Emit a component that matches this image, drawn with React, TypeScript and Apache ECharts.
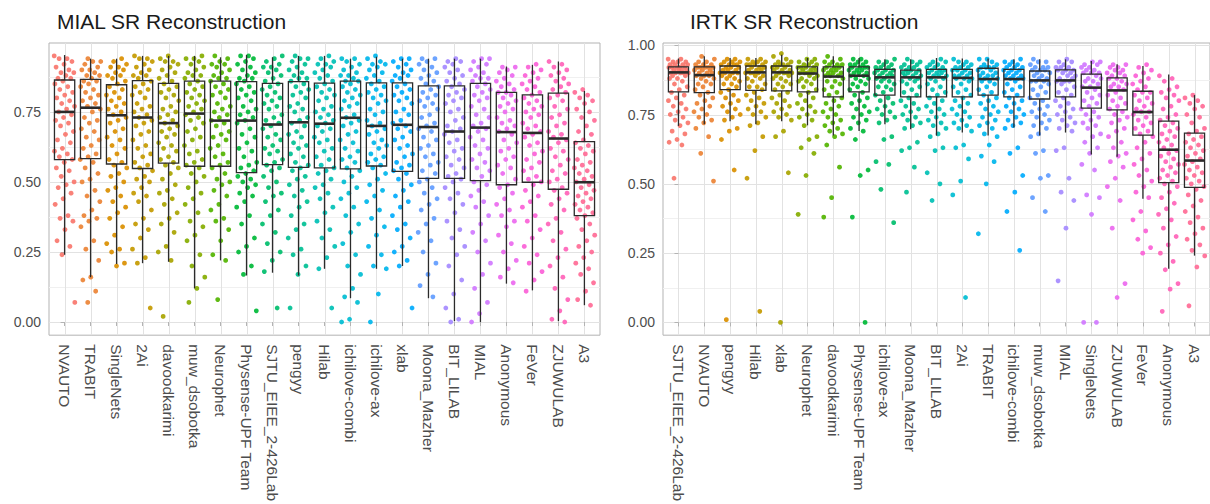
import React, { useEffect, useRef } from "react";
import * as echarts from "echarts";

const FONT = '"Liberation Sans", Arial, Helvetica, sans-serif';

// ---------------- DATA ----------------
const mialTitle = "MIAL SR Reconstruction";
const irtkTitle = "IRTK SR Reconstruction";

const mialCats = [
  "NVAUTO", "TRABIT", "SingleNets", "2Ai", "davoodkarimi", "muw_dsobotka", "Neurophet",
  "Physense-UPF Team", "SJTU_EIEE_2-426Lab", "pengyy", "Hilab", "ichilove-combi", "ichilove-ax",
  "xlab", "Moona_Mazher", "BIT_LILAB", "MIAL", "Anonymous", "FeVer", "ZJUWULAB", "A3",
];

const irtkCats = [
  "SJTU_EIEE_2-426Lab", "NVAUTO", "pengyy", "Hilab", "xlab", "Neurophet", "davoodkarimi",
  "Physense-UPF Team", "ichilove-ax", "Moona_Mazher", "BIT_LILAB", "2Ai", "TRABIT",
  "ichilove-combi", "muw_dsobotka", "MIAL", "SingleNets", "ZJUWULAB", "FeVer", "Anonymous", "A3",
];

const yTicksMial = [0, 0.25, 0.5, 0.75];
const yTicksIrtk = [0, 0.25, 0.5, 0.75, 1.0];

// box stats: [lower whisker, Q1, median, Q3, upper whisker]
const mialStats = [
  [0.24, 0.58, 0.75, 0.864, 0.953],
  [0.16, 0.583, 0.765, 0.866, 0.94],
  [0.207, 0.564, 0.738, 0.847, 0.94],
  [0.21, 0.548, 0.73, 0.862, 0.95],
  [0.215, 0.567, 0.71, 0.852, 0.95],
  [0.12, 0.556, 0.744, 0.86, 0.95],
  [0.22, 0.556, 0.719, 0.86, 0.945],
  [0.166, 0.533, 0.719, 0.858, 0.953],
  [0.176, 0.562, 0.705, 0.852, 0.945],
  [0.166, 0.552, 0.713, 0.858, 0.95],
  [0.19, 0.55, 0.708, 0.853, 0.95],
  [0.085, 0.547, 0.729, 0.86, 0.94],
  [0.19, 0.557, 0.7, 0.854, 0.947],
  [0.2, 0.538, 0.704, 0.854, 0.94],
  [0.085, 0.513, 0.696, 0.843, 0.94],
  [0.003, 0.513, 0.68, 0.843, 0.94],
  [0.0, 0.505, 0.694, 0.852, 0.94],
  [0.137, 0.49, 0.678, 0.82, 0.912],
  [0.113, 0.499, 0.675, 0.811, 0.918],
  [0.003, 0.474, 0.655, 0.817, 0.93],
  [0.06, 0.38, 0.499, 0.644, 0.825],
];

const irtkStats = [
  [0.709, 0.832, 0.902, 0.922, 0.952],
  [0.715, 0.829, 0.892, 0.922, 0.96],
  [0.726, 0.84, 0.902, 0.925, 0.954],
  [0.715, 0.837, 0.902, 0.925, 0.954],
  [0.726, 0.835, 0.902, 0.925, 0.966],
  [0.711, 0.832, 0.898, 0.922, 0.954],
  [0.674, 0.814, 0.887, 0.922, 0.96],
  [0.691, 0.832, 0.89, 0.922, 0.954],
  [0.715, 0.82, 0.884, 0.913, 0.949],
  [0.697, 0.814, 0.884, 0.91, 0.949],
  [0.674, 0.814, 0.884, 0.913, 0.954],
  [0.685, 0.814, 0.882, 0.913, 0.952],
  [0.674, 0.82, 0.878, 0.917, 0.952],
  [0.703, 0.814, 0.878, 0.913, 0.949],
  [0.674, 0.806, 0.873, 0.907, 0.949],
  [0.685, 0.814, 0.873, 0.911, 0.949],
  [0.606, 0.773, 0.847, 0.896, 0.943],
  [0.598, 0.767, 0.837, 0.882, 0.931],
  [0.446, 0.676, 0.759, 0.834, 0.925],
  [0.194, 0.504, 0.623, 0.726, 0.894],
  [0.241, 0.487, 0.584, 0.683, 0.82],
];

// individual scores (hundredths)
const mialPoints = [
  [95,94,94,93,92,91,90,89,89,88,87,87,86,85,84,83,82,81,80,79,78,77,76,75,74,73,72,71,70,68,67,65,64,62,61,60,59,58,57,55,54,52,50,49,48,46,44,42,38,37,36,33,29,27,24,7],
  [94,93,93,92,91,90,90,89,88,88,87,86,86,85,84,83,82,81,80,79,78,77,76,75,73,72,71,69,68,66,65,63,62,60,59,58,57,55,53,51,50,47,45,43,40,38,37,36,34,29,26,22,16,15,11,7],
  [94,93,92,91,91,90,89,88,88,87,86,85,84,83,82,81,80,79,78,77,76,75,74,73,72,71,69,68,66,65,63,62,60,58,57,56,55,53,52,50,48,47,45,43,41,39,37,34,31,28,26,25,21,20],
  [95,94,94,93,92,91,90,89,88,88,87,86,85,84,83,82,81,80,78,77,76,75,74,73,72,71,70,68,67,65,63,62,60,59,57,56,55,54,52,51,50,48,46,45,43,40,37,35,33,30,26,23,21,5],
  [95,94,93,93,92,91,90,89,88,87,86,85,84,83,82,81,80,79,77,76,75,74,73,72,71,70,69,68,67,66,64,63,62,61,59,58,57,56,55,53,51,49,47,46,44,42,39,37,35,32,27,25,22,2],
  [95,94,94,93,92,91,90,89,88,88,87,86,85,84,83,82,81,80,79,78,77,76,75,74,73,72,71,69,68,66,65,63,61,60,58,57,56,55,53,52,50,48,46,44,42,39,36,34,31,29,24,20,16,12,7],
  [95,94,93,92,92,91,90,89,88,87,87,86,85,84,83,82,81,80,78,77,76,75,74,73,72,71,70,68,67,66,65,63,62,60,59,57,56,55,53,51,50,49,47,45,42,40,37,36,33,29,24,22,8],
  [95,95,94,93,92,91,90,89,88,87,87,86,85,84,83,82,81,80,79,77,76,75,74,73,72,71,69,67,66,64,62,61,59,57,56,55,54,53,52,51,50,49,48,46,45,43,41,38,35,30,27,25,20,17,4],
  [95,94,93,92,91,91,90,89,88,87,86,85,84,83,82,81,80,79,78,77,76,74,73,72,71,70,69,67,66,65,63,62,61,60,58,57,56,55,54,52,50,48,46,45,43,40,38,35,32,28,25,22,18,5],
  [95,94,94,93,92,91,90,89,88,87,87,86,85,84,83,82,81,80,78,77,76,75,73,72,71,70,68,67,66,64,63,62,60,59,57,56,55,54,52,51,49,47,45,43,41,38,35,33,30,26,24,20,17,5],
  [95,94,93,92,92,91,90,89,88,87,86,85,84,83,82,81,80,79,77,76,75,74,73,72,71,70,69,68,66,65,64,62,61,59,58,56,55,54,53,51,49,48,46,44,41,39,36,33,30,27,23,19,5],
  [94,94,93,92,91,90,89,88,88,87,86,86,85,84,83,82,81,80,79,78,77,76,74,73,72,71,70,68,67,65,64,62,61,59,58,57,55,54,52,50,48,46,44,41,38,35,32,28,24,20,17,12,9,7,1,0],
  [95,94,93,92,92,91,90,89,88,87,86,85,84,83,82,81,80,79,78,76,75,74,72,71,70,69,68,67,65,64,63,62,60,59,58,57,56,55,53,51,49,47,45,43,40,37,34,31,27,24,20,19,10,0],
  [94,94,93,92,91,90,89,88,88,87,86,85,84,83,82,81,80,79,78,76,75,74,72,71,70,69,68,66,65,63,62,60,59,57,56,55,54,53,51,49,47,45,43,41,38,35,33,30,27,25,22,20,5],
  [94,94,93,92,91,90,89,88,87,86,85,84,83,82,81,80,79,78,77,76,74,73,71,70,69,68,66,65,63,62,60,59,57,56,54,53,51,50,48,46,44,42,40,37,35,32,29,25,21,17,13,9],
  [94,93,93,92,91,90,89,88,87,86,85,84,83,82,81,80,79,78,76,75,73,72,70,69,68,67,65,64,62,61,59,58,56,55,53,52,51,50,48,46,44,42,39,36,33,30,27,24,20,15,10,5,1,0],
  [94,94,93,92,91,90,89,88,87,87,86,85,84,83,82,81,80,79,77,76,74,73,71,70,69,68,66,65,63,62,60,58,57,55,54,52,50,49,47,45,43,41,38,35,32,29,25,21,17,12,7,3,0],
  [91,91,90,89,88,87,86,85,84,83,82,82,81,80,79,78,77,76,75,73,72,71,70,69,68,67,65,64,62,61,59,58,56,55,53,51,49,48,46,44,42,40,38,36,34,31,28,25,22,19,16,14],
  [92,91,90,89,88,87,86,85,84,83,82,81,80,79,78,77,76,75,74,73,71,70,69,68,67,66,64,63,61,60,58,57,55,54,52,51,50,49,47,45,43,41,38,36,33,30,27,24,21,18,15,11],
  [93,92,91,90,89,88,87,86,85,84,83,82,81,80,79,77,76,74,73,71,70,68,67,66,65,64,62,61,59,58,56,54,53,51,50,48,47,46,44,42,40,37,35,32,29,26,23,20,16,12,8,4,1,0],
  [83,82,81,80,79,78,76,75,73,72,70,68,67,65,64,63,62,61,60,58,57,56,55,54,53,52,51,50,49,48,47,46,45,44,43,42,41,40,39,38,37,35,33,31,29,27,25,23,21,19,17,14,11,8,6],
];

const irtkPoints = [
  [95,95,94,94,94,93,93,93,93,92,92,92,92,92,91,91,91,91,90,90,90,90,90,89,89,88,88,87,86,85,84,83,82,81,80,79,78,77,76,75,74,73,72,71,69,68,66,65,64,52],
  [96,95,94,94,93,93,93,92,92,92,92,92,91,91,91,90,90,90,89,89,89,88,88,87,86,86,85,84,83,82,81,80,79,78,77,76,75,74,73,72,70,67,61,51],
  [95,95,94,94,94,93,93,93,93,92,92,92,91,91,91,90,90,90,90,89,89,88,88,87,86,86,85,84,83,82,81,80,79,78,77,76,75,74,73,70,69,66,55,1],
  [95,95,94,94,94,93,93,93,93,92,92,92,91,91,91,90,90,90,90,89,89,88,88,87,86,85,85,84,83,82,81,80,79,78,77,76,75,74,72,71,67,62,52,4],
  [97,96,95,94,94,93,93,93,93,92,92,92,91,91,91,90,90,90,90,89,89,88,88,87,86,86,85,84,83,82,81,80,79,78,77,76,75,74,73,69,67,54,0],
  [95,95,94,94,93,93,93,92,92,92,92,91,91,91,90,90,90,90,89,89,88,88,87,87,86,85,84,83,82,81,80,79,78,77,76,75,74,73,71,67,66,63,61,53,39],
  [96,95,94,94,93,93,93,92,92,92,91,91,91,90,90,90,89,89,89,88,87,87,86,85,84,83,82,81,80,79,78,77,76,75,74,73,72,71,70,69,68,67,64,56,45,38],
  [95,95,94,94,93,93,93,92,92,92,92,91,91,91,90,90,90,89,89,88,88,87,86,86,85,84,83,82,81,80,79,78,77,76,75,74,73,72,70,69,66,55,53,38,0],
  [95,94,94,93,93,92,92,92,91,91,91,90,90,90,89,89,89,88,88,87,87,86,85,85,84,83,82,81,80,79,78,77,76,75,74,73,72,67,66,58,57,48,36],
  [95,94,94,93,93,92,92,92,91,91,91,90,90,90,89,89,89,88,88,87,87,86,85,84,83,82,81,80,79,78,77,76,75,74,73,72,71,70,65,63,62,56,47],
  [95,94,94,93,93,92,92,92,91,91,91,90,90,90,89,89,89,88,88,87,86,85,84,83,82,81,80,79,78,77,76,75,74,73,72,71,70,68,67,63,62,54,50,44],
  [95,94,94,93,93,92,92,92,91,91,91,90,90,89,89,89,88,88,88,87,86,85,84,83,82,81,80,79,78,77,76,75,74,73,72,71,70,69,64,63,59,51,46,9],
  [95,95,94,93,93,92,92,92,92,91,91,90,90,89,89,89,88,88,87,87,86,85,84,83,82,81,80,79,78,77,76,75,74,73,72,71,70,68,67,64,60,58,50,32],
  [95,94,94,93,93,92,92,92,91,91,91,90,90,89,89,89,88,88,88,87,86,85,84,83,82,81,80,79,78,77,76,75,74,73,72,71,70,63,61,53,47,40,26],
  [95,94,94,93,92,92,92,91,91,91,90,90,89,89,88,88,87,87,87,86,85,84,83,82,81,80,79,78,77,76,75,74,73,72,71,70,68,67,62,61,53,52,45,40],
  [95,94,94,93,92,92,92,91,91,91,90,90,89,89,88,88,87,87,87,86,85,84,83,82,81,80,79,78,77,76,75,74,73,72,71,70,69,63,62,52,47,44,34,15],
  [94,94,93,93,92,92,91,91,90,90,90,89,88,88,87,87,86,85,85,84,83,82,81,80,79,78,77,76,75,74,73,72,71,70,68,67,65,63,61,57,55,46,45,39,0,0],
  [93,93,92,92,91,91,90,90,89,89,88,88,87,86,86,85,85,84,83,82,81,80,79,78,77,76,75,74,73,72,70,69,67,65,63,61,60,58,56,52,49,44,34,14,9],
  [93,92,91,90,89,88,87,86,85,84,83,83,82,81,80,79,78,77,76,76,75,74,73,72,71,70,69,68,67,65,63,61,59,57,55,53,51,49,47,45,40,37,33,30,27,25],
  [89,88,87,85,84,83,82,81,80,78,77,75,74,73,72,71,70,69,68,67,66,65,64,63,62,61,60,59,58,57,56,55,54,53,52,51,50,49,47,45,43,41,39,37,34,31,28,25,22,19,14,12,4],
  [82,81,80,79,78,77,75,74,72,70,69,68,67,66,65,64,63,62,61,60,59,58,57,56,55,54,53,52,51,50,49,48,46,44,42,40,38,36,34,32,30,28,26,24,20,6],
];

// ---------------- COLOURS (ggplot2 hue palette) ----------------
function hclHex(h: number, c: number, l: number): string {
  const hr = (h * Math.PI) / 180;
  const U = c * Math.cos(hr);
  const V = c * Math.sin(hr);
  const Xn = 95.047, Yn = 100, Zn = 108.883;
  const Y = Yn * Math.pow((l + 16) / 116, 3);
  const den = Xn + 15 * Yn + 3 * Zn;
  const un = (4 * Xn) / den, vn = (9 * Yn) / den;
  const up = U / (13 * l) + un;
  const vp = V / (13 * l) + vn;
  const X = (Y * 9 * up) / (4 * vp);
  const Z = (Y * (12 - 3 * up - 20 * vp)) / (4 * vp);
  const x = X / 100, y = Y / 100, z = Z / 100;
  const lin = [
    3.240479 * x - 1.53715 * y - 0.498535 * z,
    -0.969256 * x + 1.875992 * y + 0.041556 * z,
    0.055648 * x - 0.204043 * y + 1.057311 * z,
  ];
  const hex = lin
    .map((v) => {
      let g = v <= 0.0031308 ? 12.92 * v : 1.055 * Math.pow(v, 1 / 2.4) - 0.055;
      g = Math.max(0, Math.min(1, g));
      return Math.round(g * 255).toString(16).padStart(2, "0");
    })
    .join("");
  return "#" + hex;
}
const N = 21;
const palette = Array.from({ length: N }, (_, i) => hclHex(15 + (i * 360) / N, 100, 65));

// ---------------- PANEL BUILDER ----------------
function jitter(j: number, cat: number) {
  const f = (j * 0.6180339887 + cat * 0.371) % 1;
  return (f - 0.5) * 0.8;
}

function panel(
  idx: number,
  cats: string[],
  stats: number[][],
  points: number[][],
  yTicks: number[],
  yMin: number,
  yMax: number
) {
  const xAxis = {
    type: "value",
    gridIndex: idx,
    min: -0.6,
    max: cats.length - 1 + 0.6,
    axisLine: { show: false },
    splitLine: { show: false },
    axisTick: {
      show: true,
      length: 4,
      customValues: cats.map((_, i) => i),
      lineStyle: { color: "#b3b3b3", width: 1 },
    },
    axisLabel: {
      show: true,
      customValues: cats.map((_, i) => i),
      formatter: (v: number) => cats[Math.round(v)] ?? "",
      rotate: -90,
      margin: 9,
      fontSize: 15.5,
      color: "#4d4d4d",
      fontFamily: FONT,
    },
  };
  const yAxis = {
    type: "value",
    gridIndex: idx,
    min: yMin,
    max: yMax,
    axisLine: { show: false },
    splitLine: { show: false },
    axisTick: {
      show: true,
      length: 4,
      customValues: yTicks,
      lineStyle: { color: "#b3b3b3", width: 1 },
    },
    axisLabel: {
      show: true,
      customValues: yTicks,
      formatter: (v: number) => v.toFixed(2),
      margin: 8,
      fontSize: 14,
      color: "#4d4d4d",
      fontFamily: FONT,
    },
  };

  const minor: number[] = [];
  for (let k = 0; k < yTicks.length; k++) {
    const m = yTicks[k] + 0.125;
    if (m < yMax) minor.push(m);
  }

  const gridSeries = {
    type: "custom",
    xAxisIndex: idx,
    yAxisIndex: idx,
    silent: true,
    z: 0,
    data: [[0, 0]],
    encode: { x: 0, y: 1 },
    renderItem: (params: any, api: any) => {
      const cs = params.coordSys;
      const children: any[] = [];
      minor.forEach((v) => {
        const yy = Math.round(api.coord([0, v])[1]) + 0.5;
        children.push({
          type: "line",
          shape: { x1: cs.x, y1: yy, x2: cs.x + cs.width, y2: yy },
          style: { stroke: "#f0f0f0", lineWidth: 1 },
        });
      });
      yTicks.forEach((v) => {
        const yy = Math.round(api.coord([0, v])[1]) + 0.5;
        children.push({
          type: "line",
          shape: { x1: cs.x, y1: yy, x2: cs.x + cs.width, y2: yy },
          style: { stroke: "#e2e2e2", lineWidth: 1 },
        });
      });
      cats.forEach((_, i) => {
        const xx = Math.round(api.coord([i, 0])[0]) + 0.5;
        children.push({
          type: "line",
          shape: { x1: xx, y1: cs.y, x2: xx, y2: cs.y + cs.height },
          style: { stroke: "#e2e2e2", lineWidth: 1 },
        });
      });
      return { type: "group", children };
    },
  };

  const scatterData: number[][] = [];
  points.forEach((arr, ci) => {
    arr.forEach((v, j) => {
      scatterData.push([ci + jitter(j, ci), v / 100, ci]);
    });
  });

  const scatterSeries = {
    type: "scatter",
    xAxisIndex: idx,
    yAxisIndex: idx,
    symbolSize: 4.8,
    z: 2,
    silent: true,
    data: scatterData,
    itemStyle: { color: (p: any) => palette[p.data[2]], opacity: 0.92 },
  };

  const boxSeries = {
    type: "custom",
    xAxisIndex: idx,
    yAxisIndex: idx,
    z: 3,
    silent: true,
    data: stats.map((s, i) => [i, ...s]),
    encode: { x: 0, y: [1, 2, 3, 4, 5] },
    renderItem: (_params: any, api: any) => {
      const i = api.value(0);
      const lo = api.coord([i, api.value(1)]);
      const q1 = api.coord([i, api.value(2)]);
      const md = api.coord([i, api.value(3)]);
      const q3 = api.coord([i, api.value(4)]);
      const hi = api.coord([i, api.value(5)]);
      const w = api.size([0.78, 0])[0];
      const cx = lo[0];
      const x0 = cx - w / 2;
      const stroke = "#2b2b2b";
      return {
        type: "group",
        children: [
          { type: "line", shape: { x1: cx, y1: lo[1], x2: cx, y2: q1[1] }, style: { stroke, lineWidth: 1.3 } },
          { type: "line", shape: { x1: cx, y1: q3[1], x2: cx, y2: hi[1] }, style: { stroke, lineWidth: 1.3 } },
          {
            type: "rect",
            shape: { x: x0, y: q3[1], width: w, height: q1[1] - q3[1] },
            style: { fill: "transparent", stroke, lineWidth: 1.3 },
          },
          { type: "line", shape: { x1: x0, y1: md[1], x2: x0 + w, y2: md[1] }, style: { stroke, lineWidth: 2.6 } },
        ],
      };
    },
  };

  return { xAxis, yAxis, series: [gridSeries, scatterSeries, boxSeries] };
}

export default function App() {
  const ref = useRef<HTMLDivElement>(null);
  useEffect(() => {
    if (!ref.current) return;
    const chart = echarts.init(ref.current, undefined, { renderer: "svg" });
    const p1 = panel(0, mialCats, mialStats, mialPoints, yTicksMial, -0.047, 0.996);
    const p2 = panel(1, irtkCats, irtkStats, irtkPoints, yTicksIrtk, -0.046, 1.008);
    const titleStyle = { fontSize: 21, fontWeight: "normal", color: "#1a1a1a", fontFamily: FONT };
    chart.setOption({
      animation: false,
      backgroundColor: "#ffffff",
      textStyle: { fontFamily: FONT },
      title: [
        { text: mialTitle, left: 57, top: 11, padding: 0, textStyle: titleStyle },
        { text: irtkTitle, left: 690, top: 11, padding: 0, textStyle: titleStyle },
      ],
      grid: [
        { left: 49, top: 43, width: 551, height: 299, show: true, borderColor: "#b3b3b3", borderWidth: 1, backgroundColor: "#ffffff" },
        { left: 663, top: 43, width: 555, height: 299, show: true, borderColor: "#b3b3b3", borderWidth: 1, backgroundColor: "#ffffff" },
      ],
      xAxis: [p1.xAxis, p2.xAxis],
      yAxis: [p1.yAxis, p2.yAxis],
      series: [...p1.series, ...p2.series],
    });
    return () => chart.dispose();
  }, []);
  return (
    <div
      ref={ref}
      style={{ position: "fixed", left: 0, top: 0, width: 1210, height: 504, background: "#fff" }}
    />
  );
}
